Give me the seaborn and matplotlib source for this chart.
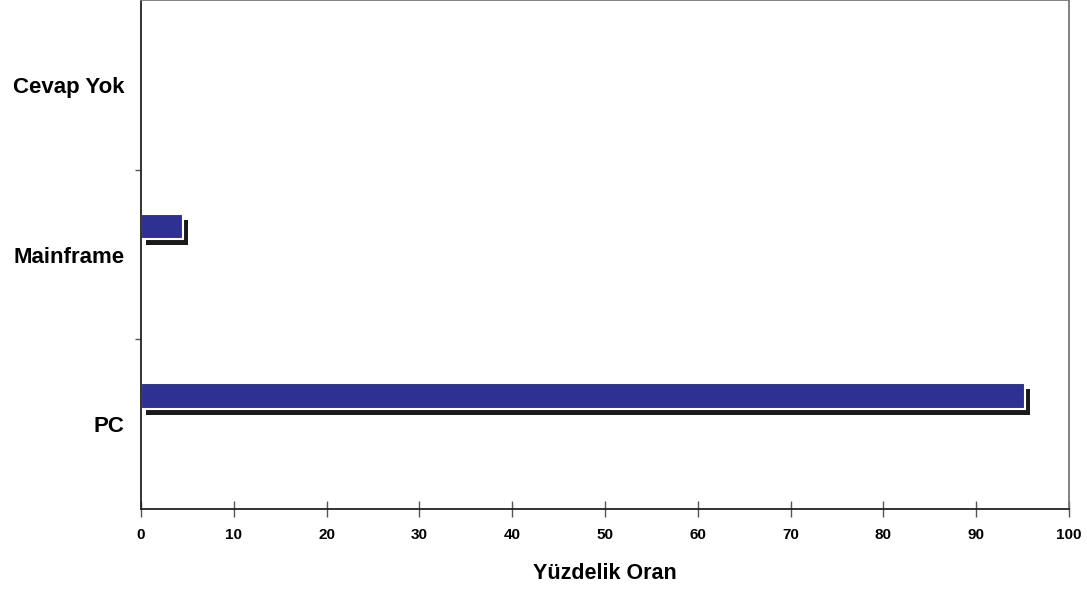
import numpy as np
import pandas as pd
import matplotlib
matplotlib.use("Agg")
import matplotlib.pyplot as plt
import matplotlib.patheffects as pe
import seaborn as sns

categories = ["Cevap Yok", "Mainframe", "PC"]
values = [0.0, 4.5, 95.3]
x_ticks = [0, 10, 20, 30, 40, 50, 60, 70, 80, 90, 100]

BAR_COLOR = "#2E3192"

sns.set_style("white")
plt.rcParams["font.family"] = ["Liberation Sans", "DejaVu Sans"]
plt.rcParams["text.color"] = "black"
plt.rcParams["axes.labelcolor"] = "black"
plt.rcParams["xtick.color"] = "black"
plt.rcParams["ytick.color"] = "black"

df = pd.DataFrame({"Kategori": categories, "Oran": values})

fig = plt.figure(figsize=(10.87, 5.89), dpi=100)
ax = fig.add_axes([0.1297, 0.1358, 0.9834 - 0.1297, 0.8642])

sns.barplot(data=df, x="Oran", y="Kategori", orient="h", order=categories,
            color=BAR_COLOR, saturation=1, width=0.15, ax=ax,
            edgecolor="white", linewidth=1.5)

# bars sit in the upper part of each band, with a drop shadow
for p in ax.patches:
    p.set_y(p.get_y() - 0.165)
    p.set_path_effects([pe.SimplePatchShadow(offset=(3.6, -4.2),
                                             shadow_rgbFace="#1a1a1a", alpha=1.0),
                        pe.Normal()])

ax.set_xlim(0, 100)
ax.set_ylim(2.5, -0.5)
ax.set_xticks(x_ticks)
ax.set_xticklabels([str(t) for t in x_ticks], fontsize=11, fontweight="bold")

# ticks on band boundaries, labels at band centers
ax.set_yticks([0.5, 1.5])
ax.set_yticklabels([])
ax.set_yticks([0, 1, 2], minor=True)
ax.set_yticklabels(categories, minor=True, fontsize=16, fontweight="bold")
ax.tick_params(axis="y", which="minor", length=0, pad=12)
ax.tick_params(axis="y", which="major", length=4.5, width=1, color="#555555",
               direction="out", left=True)
ax.tick_params(axis="x", length=11, width=1, color="#555555", direction="inout",
               bottom=True, pad=8)

ax.set_xlabel("Yüzdelik Oran", fontsize=15.5, fontweight="bold", labelpad=15)
ax.set_ylabel("")

for side in ["left", "bottom"]:
    ax.spines[side].set_color("#222222")
    ax.spines[side].set_linewidth(1.3)
for side in ["top", "right"]:
    ax.spines[side].set_color("#777777")
    ax.spines[side].set_linewidth(1.3)

plt.savefig("out.png", dpi=100)
plt.close()
